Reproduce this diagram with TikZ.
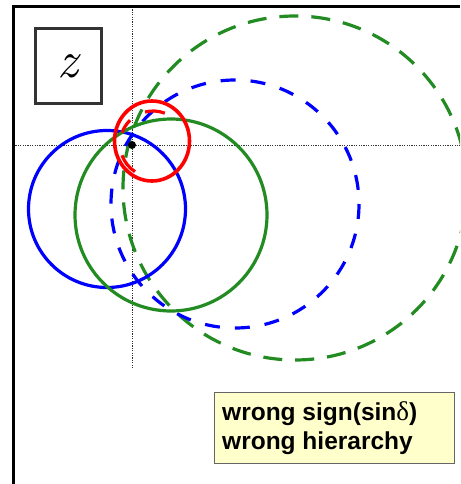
\documentclass[tikz,border=0pt]{standalone}
\usepackage{fontspec}
\newfontfamily\arialbf[BoldFont={Liberation Sans Bold}]{Liberation Sans}
\newfontfamily\timesf{Liberation Serif}
\definecolor{mygreen}{RGB}{34,139,34}
\definecolor{myblue}{RGB}{0,0,255}
\definecolor{myred}{RGB}{255,0,0}
\definecolor{lightyel}{RGB}{255,255,204}
\begin{document}
\begin{tikzpicture}[x=1pt,y=-1pt,
  axisline/.style={black!80,line width=0.9pt,dash pattern=on 1.2pt off 1.2pt},
  gdash/.style={mygreen,line width=3.2pt,dash pattern=on 19pt off 13pt},
  bdash/.style={myblue,line width=3.2pt,dash pattern=on 15pt off 15pt},
  rdash/.style={myred,line width=3.2pt},
  solidc/.style={line width=3.2pt},
  lbltext/.style={anchor=base west,inner sep=0pt,font=\fontsize{24.5}{29}\selectfont\arialbf\bfseries}]
\useasboundingbox (0,0) rectangle (460,484);
\begin{scope}
\clip (13,7) rectangle (460,484);
% axes
\draw[axisline] (132,7) -- (132,368);
\draw[axisline] (13,145) -- (460,145);
% dashed circles
\draw[gdash,dash phase=5pt] (295,188) circle[radius=172];
\draw[bdash] (235,204) circle[radius=124];
% solid circles
\draw[solidc,myblue] (107,209) circle[radius=78.5];
\draw[solidc,mygreen] (171,215) circle[radius=96];
% red dashed pieces
\coordinate (rc) at (153,144);
\draw[rdash] (rc) ++(256:33) arc[start angle=256,end angle=291,radius=33];
\draw[rdash] (rc) ++(200:33) arc[start angle=200,end angle=226,radius=33];
\draw[rdash] (rc) ++(123:33) arc[start angle=123,end angle=160,radius=33];
\draw[solidc,myred,line width=3.6pt] (152,141) ellipse[x radius=37.5,y radius=40];
\end{scope}
\fill[black] (132,145) circle[radius=4];
% frame
\draw[black,line width=3pt] (13,484) -- (13,7) -- (460,7);
% z box
\node[draw=black!80,line width=3pt,minimum width=66pt,minimum height=75pt,inner sep=0pt] (zbox) at (68,66) {\fontsize{52}{52}\selectfont\itshape z};
% label
\node[draw=black!60,line width=1.2pt,fill=lightyel,minimum width=240pt,minimum height=71pt,inner sep=0pt,anchor=north west] (lbl) at (214,392) {};
\node[lbltext] (l1) at (222,420) {wrong sign(sin{\timesf\mdseries\fontsize{27}{29}\selectfont δ})};
\node[lbltext] (l2) at (222,449) {wrong hierarchy};
\end{tikzpicture}
\end{document}
